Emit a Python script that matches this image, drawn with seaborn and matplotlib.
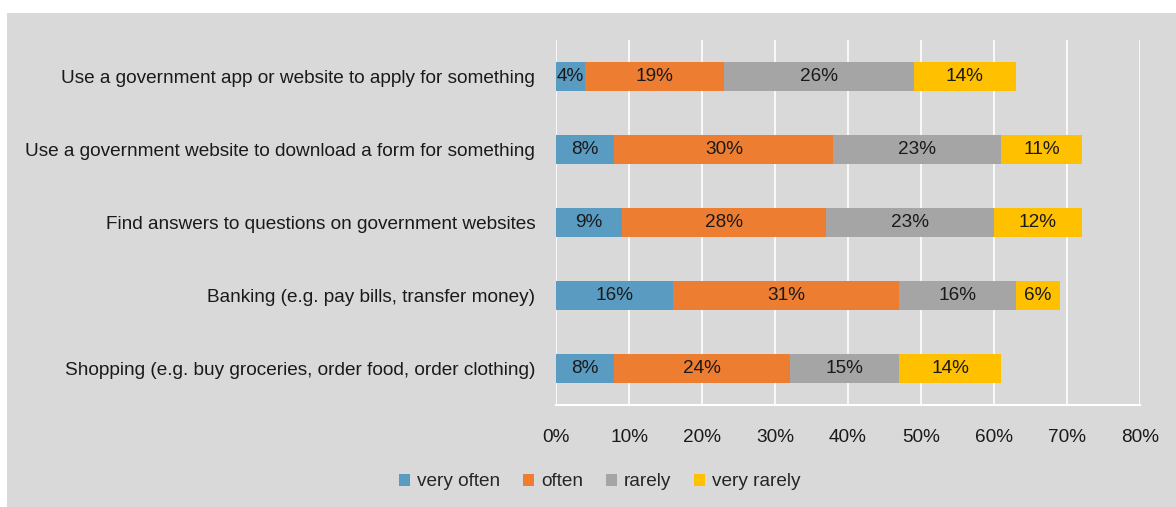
import matplotlib
matplotlib.use("Agg")
import matplotlib.pyplot as plt
from matplotlib.patches import Rectangle
import seaborn as sns
import pandas as pd
import numpy as np

categories = [
    "Use a government app or website to apply for something",
    "Use a government website to download a form for something",
    "Find answers to questions on government websites",
    "Banking (e.g. pay bills, transfer money)",
    "Shopping (e.g. buy groceries, order food, order clothing)",
]
series_names = ["very often", "often", "rarely", "very rarely"]
very_often = [4, 8, 9, 16, 8]
often = [19, 30, 28, 31, 24]
rarely = [26, 23, 23, 16, 15]
very_rarely = [14, 11, 12, 6, 14]
x_ticks = [0, 10, 20, 30, 40, 50, 60, 70, 80]
x_tick_labels = ["0%", "10%", "20%", "30%", "40%", "50%", "60%", "70%", "80%"]

colors = ["#5A9BC1", "#ED7D31", "#A5A5A5", "#FFC000"]
bg = "#D9D9D9"

sns.set_theme(style="white")
plt.rcParams["font.family"] = ["Liberation Sans", "DejaVu Sans"]
FS = 13.7

values = np.array([very_often, often, rarely, very_rarely], dtype=float)
cum = values.cumsum(axis=0)

W, H = 1176, 507
fig = plt.figure(figsize=(W / 100, H / 100), dpi=100)
fig.patch.set_facecolor("white")
fig.patches.append(Rectangle((7 / W, 0), 1 - 7 / W, 1 - 13 / H,
                             transform=fig.transFigure, facecolor=bg,
                             edgecolor="none", zorder=-10))

ax = fig.add_axes([556 / W, 1 - 405 / H, (1140 - 556) / W, (405 - 40) / H])
ax.set_facecolor(bg)

# stacked bars: draw cumulative totals from the outermost segment inward
for i in reversed(range(len(series_names))):
    df = pd.DataFrame({"category": categories, "value": cum[i]})
    sns.barplot(data=df, x="value", y="category", orient="h", color=colors[i],
                width=0.4, ax=ax, label=series_names[i], saturation=1,
                linewidth=0, zorder=3)

handles, labels = ax.get_legend_handles_labels()
if ax.get_legend() is not None:
    ax.get_legend().remove()

for i in range(len(series_names)):
    for j, cat in enumerate(categories):
        v = values[i, j]
        ax.text(cum[i, j] - v / 2, j, f"{v:.0f}%", ha="center", va="center",
                fontsize=FS, color="#1a1a1a", zorder=4)

ax.set_xlim(0, 80)
ax.set_ylim(len(categories) - 0.5, -0.5)
ax.set_xticks(x_ticks)
ax.set_xticklabels(x_tick_labels, fontsize=FS, color="#1a1a1a")
ax.tick_params(axis="x", length=0, pad=17)
ax.tick_params(axis="y", length=0, pad=15, labelsize=FS, labelcolor="#1a1a1a")
ax.set_xlabel("")
ax.set_ylabel("")
ax.grid(axis="x", color="white", linewidth=1.2, zorder=1)
ax.set_axisbelow(True)
for s in ["top", "right", "left"]:
    ax.spines[s].set_visible(False)
ax.spines["bottom"].set_color("white")
ax.spines["bottom"].set_linewidth(1.5)

order = [labels.index(n) for n in series_names]
fig.legend([handles[k] for k in order], [labels[k] for k in order],
           loc="center", bbox_to_anchor=(600 / W, 1 - 482 / H), ncol=4,
           frameon=False, fontsize=FS, handlelength=0.55, handleheight=0.55,
           handletextpad=0.4, columnspacing=1.2)

fig.savefig("out.png", dpi=100, facecolor="white")
